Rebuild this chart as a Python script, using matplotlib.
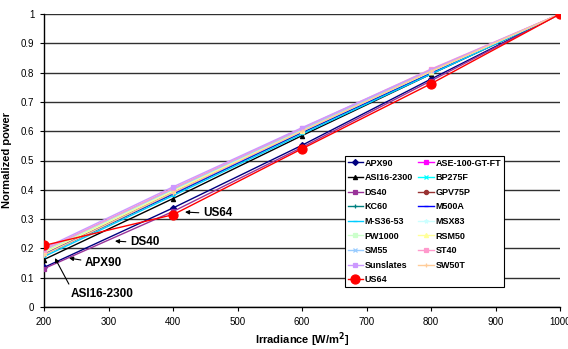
import matplotlib
matplotlib.use("Agg")
import matplotlib.pyplot as plt

plt.rcParams['font.family'] = ['Liberation Sans', 'DejaVu Sans']

irradiance = [200, 400, 600, 800, 1000]

APX90 = [0.135, 0.338, 0.552, 0.778, 1.0]
ASE_100_GT_FT = [0.19, 0.40, 0.605, 0.805, 1.0]
ASI16_2300 = [0.162, 0.370, 0.585, 0.795, 1.0]
BP275F = [0.19, 0.392, 0.598, 0.80, 1.0]
DS40 = [0.131, 0.326, 0.545, 0.772, 1.0]
GPV75P = [0.182, 0.39, 0.60, 0.80, 1.0]
KC60 = [0.178, 0.385, 0.595, 0.798, 1.0]
M500A = [0.18, 0.387, 0.597, 0.80, 1.0]
M_S36_53 = [0.172, 0.38, 0.59, 0.795, 1.0]
MSX83 = [0.195, 0.40, 0.605, 0.805, 1.0]
PW1000 = [0.19, 0.398, 0.603, 0.805, 1.0]
RSM50 = [0.185, 0.395, 0.60, 0.803, 1.0]
SM55 = [0.195, 0.402, 0.607, 0.807, 1.0]
ST40 = [0.195, 0.405, 0.61, 0.812, 1.0]
Sunslates = [0.20, 0.41, 0.612, 0.81, 1.0]
SW50T = [0.178, 0.39, 0.60, 0.805, 1.0]
US64 = [0.21, 0.315, 0.54, 0.762, 1.0]

names = ["APX90", "ASE-100-GT-FT", "ASI16-2300", "BP275F", "DS40", "GPV75P",
         "KC60", "M500A", "M-S36-53", "MSX83", "PW1000", "RSM50", "SM55",
         "ST40", "Sunslates", "SW50T", "US64"]
values = [APX90, ASE_100_GT_FT, ASI16_2300, BP275F, DS40, GPV75P, KC60, M500A,
          M_S36_53, MSX83, PW1000, RSM50, SM55, ST40, Sunslates, SW50T, US64]
colors = ['#000080', '#FF00FF', '#000000', '#00FFFF', '#993399', '#993333',
          '#008080', '#0000FF', '#00CCFF', '#CCFFFF', '#CCFFCC', '#FFFF99',
          '#99CCFF', '#FF99CC', '#CC99FF', '#FFCC99', '#FF0000']
markers = ['D', 's', '^', 'x', 's', 'o', '+', '_', '_', '*', 's', '^', 'x',
           's', 's', '+', 'o']

fig = plt.figure(figsize=(5.68, 3.49), dpi=100)
ax = fig.add_axes([44/568, 42/349, 516/568, 293/349])

handles = {}
for i in range(len(names)):
    ms = 6.5 if names[i] == "US64" else 3.0
    h, = ax.plot(irradiance, values[i], color=colors[i], marker=markers[i],
                 ms=ms, lw=1.0, mew=0.9, zorder=3, label=names[i])
    handles[names[i]] = h

ax.set_xlim(200, 1000)
ax.set_ylim(0, 1)
ax.set_xticks(range(200, 1001, 100))
ax.set_yticks([i / 10 for i in range(11)])
ax.set_yticklabels(['0', '0.1', '0.2', '0.3', '0.4', '0.5', '0.6', '0.7',
                    '0.8', '0.9', '1'])
ax.tick_params(labelsize=7, length=3, width=0.8, direction='out', pad=4)
ax.yaxis.grid(True, color='#303030', lw=1.0, zorder=0)
ax.set_axisbelow(True)
for s in ['top', 'right']:
    ax.spines[s].set_visible(False)
for s in ['left', 'bottom']:
    ax.spines[s].set_linewidth(1.0)

ax.set_xlabel('Irradiance [W/m$^\\mathbf{2}$]', fontsize=8, fontweight='bold',
              labelpad=3)
ax.set_ylabel('Normalized power', fontsize=8, fontweight='bold', labelpad=6)

col1 = ["APX90", "ASI16-2300", "DS40", "KC60", "M-S36-53", "PW1000", "SM55",
        "Sunslates", "US64"]
col2 = ["ASE-100-GT-FT", "BP275F", "GPV75P", "M500A", "MSX83", "RSM50",
        "ST40", "SW50T"]
leg_names = col1 + col2
leg = ax.legend([handles[n] for n in leg_names], leg_names, ncol=2,
                loc='lower left', bbox_to_anchor=(0.583, 0.068, 0.308, 0.447),
                mode='expand', prop={'size': 6.5, 'weight': 'bold'},
                frameon=True, fancybox=False, edgecolor='black',
                framealpha=1, handlelength=1.7, handletextpad=0.2,
                labelspacing=0.62, borderpad=0.3, columnspacing=0.8,
                borderaxespad=0)
leg.get_frame().set_linewidth(0.8)
leg.set_zorder(5)

arrow = dict(arrowstyle='-|>', color='black', lw=0.8, mutation_scale=6,
             shrinkA=1, shrinkB=0)
ax.annotate('US64', xy=(418.6, 0.324), xytext=(446.5, 0.321), fontsize=8.5,
            fontweight='bold', va='center', ha='left',
            arrowprops=dict(arrow, relpos=(0, 0.5)), zorder=4)
ax.annotate('DS40', xy=(310, 0.225), xytext=(333.3, 0.222), fontsize=8.5,
            fontweight='bold', va='center', ha='left',
            arrowprops=dict(arrow, relpos=(0, 0.5)), zorder=4)
ax.annotate('APX90', xy=(238.8, 0.167), xytext=(263.6, 0.150), fontsize=8.5,
            fontweight='bold', va='center', ha='left',
            arrowprops=dict(arrow, relpos=(0, 0.7)), zorder=4)
ax.annotate('ASI16-2300', xy=(217, 0.167), xytext=(241.9, 0.044), fontsize=8.5,
            fontweight='bold', va='center', ha='left',
            arrowprops=dict(arrow, relpos=(0, 1.0)), zorder=4)

fig.savefig('out.png', dpi=100)
